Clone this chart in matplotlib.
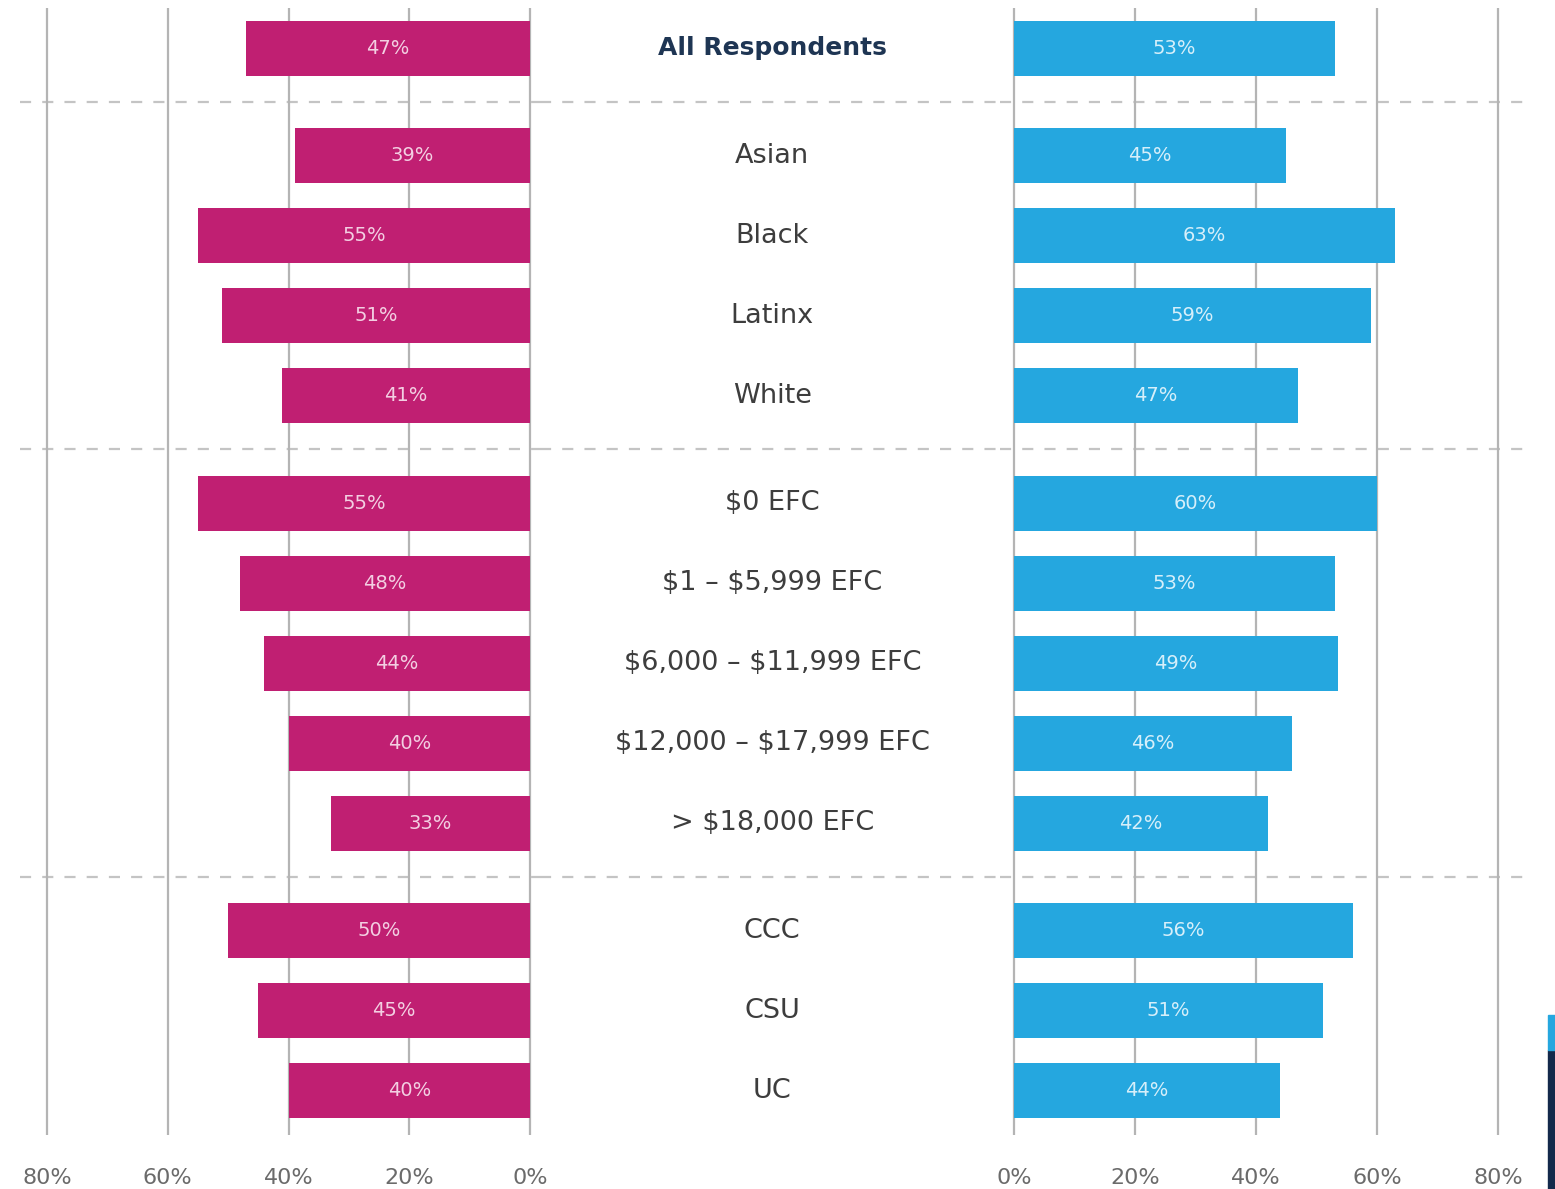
import numpy as np
import matplotlib.pyplot as plt
from matplotlib.patches import Rectangle

plt.rcParams['text.parse_math'] = False

categories = ["All Respondents", "Asian", "Black", "Latinx", "White",
              "$0 EFC", "$1 \u2013 $5,999 EFC", "$6,000 \u2013 $11,999 EFC",
              "$12,000 \u2013 $17,999 EFC", "> $18,000 EFC",
              "CCC", "CSU", "UC"]
group_of_row = [0, 1, 1, 1, 1, 2, 2, 2, 2, 2, 3, 3, 3]
left_vals = [47, 39, 55, 51, 41, 55, 48, 44, 40, 33, 50, 45, 40]
right_vals = [53, 45, 63, 59, 47, 60, 53, 49, 46, 42, 56, 51, 44]
# bar lengths as drawn in the source (the 49% bar is drawn longer there)
right_bar_len = [53, 45, 63, 59, 47, 60, 53, 53.5, 46, 42, 56, 51, 44]
tick_vals = [0, 20, 40, 60, 80]

MAGENTA = "#c01f72"
BLUE = "#25a7df"
GRID = "#b4b4b4"
DASH = "#c4c4c4"
TICKC = "#6b6b6b"

W, H = 1555, 1189
fig = plt.figure(figsize=(W / 100, H / 100), dpi=100)

gap = 0.345
ypos = np.array([i + g * gap for i, g in enumerate(group_of_row)])
seps = [(ypos[i] + ypos[i + 1]) / 2 for i in range(len(ypos) - 1)
        if group_of_row[i] != group_of_row[i + 1]]

top_px, bot_px = 8, 1135
row0_px, row_px = 48, 80
ylim = ((bot_px - row0_px) / row_px, (top_px - row0_px) / row_px)
bar_h = 55 / row_px


def px_axes(x0, x1):
    return fig.add_axes([x0 / W, 1 - bot_px / H, (x1 - x0) / W, (bot_px - top_px) / H])


def style(ax):
    for s in ax.spines.values():
        s.set_visible(False)
    ax.set_ylim(*ylim)
    ax.set_yticks([])
    ax.patch.set_alpha(0)
    for y in seps:
        ax.axhline(y, color=DASH, lw=1.6, ls=(0, (5, 5)), zorder=0)


# left panel: 80% at px 47, 0% at px 530
lscale = (530 - 47) / 80
axl = px_axes(20, 540)
axl.set_xlim(80 + 27 / lscale, -10 / lscale)
# right panel: 0% at px 1014, 80% at px 1498
rscale = (1498 - 1014) / 80
axr = px_axes(1000, 1525)
axr.set_xlim(-14 / rscale, 80 + 27 / rscale)
axm = px_axes(540, 1000)
axm.set_xlim(0, 1)
axm.set_xticks([])

panels = [(axl, left_vals, left_vals, MAGENTA, "#f3cfe2"),
          (axr, right_bar_len, right_vals, BLUE, "#d6effa")]
for ax, lens, vals, col, tcol in panels:
    style(ax)
    ax.set_xticks(tick_vals)
    ax.set_xticklabels([f"{t}%" for t in tick_vals], fontsize=16, color=TICKC,
                       fontweight="medium")
    ax.tick_params(axis="x", length=0, pad=24)
    ax.grid(axis="x", color=GRID, lw=1.6, zorder=0)
    ax.set_axisbelow(True)
    ax.barh(ypos, lens, height=bar_h, color=col, zorder=2)
    for y, ln, v in zip(ypos, lens, vals):
        ax.text(ln / 2, y, f"{v}%", ha="center", va="center", fontsize=14,
                color=tcol, zorder=3)

style(axm)
for i, (y, c) in enumerate(zip(ypos, categories)):
    if i == 0:
        axm.text(0.505, y, c, ha="center", va="center", fontsize=18,
                 fontweight="bold", color="#1e3553")
    else:
        axm.text(0.505, y, c, ha="center", va="center", fontsize=19.5,
                 color="#3d3d3d")

# cropped edge strip in the bottom right corner
fig.patches.append(Rectangle((1548 / W, 0), 7 / W, 139 / H, transform=fig.transFigure,
                             color="#13294b", zorder=5))
fig.patches.append(Rectangle((1548 / W, 139 / H), 7 / W, 35 / H, transform=fig.transFigure,
                             color=BLUE, zorder=5))

fig.savefig("out.png", dpi=100)
